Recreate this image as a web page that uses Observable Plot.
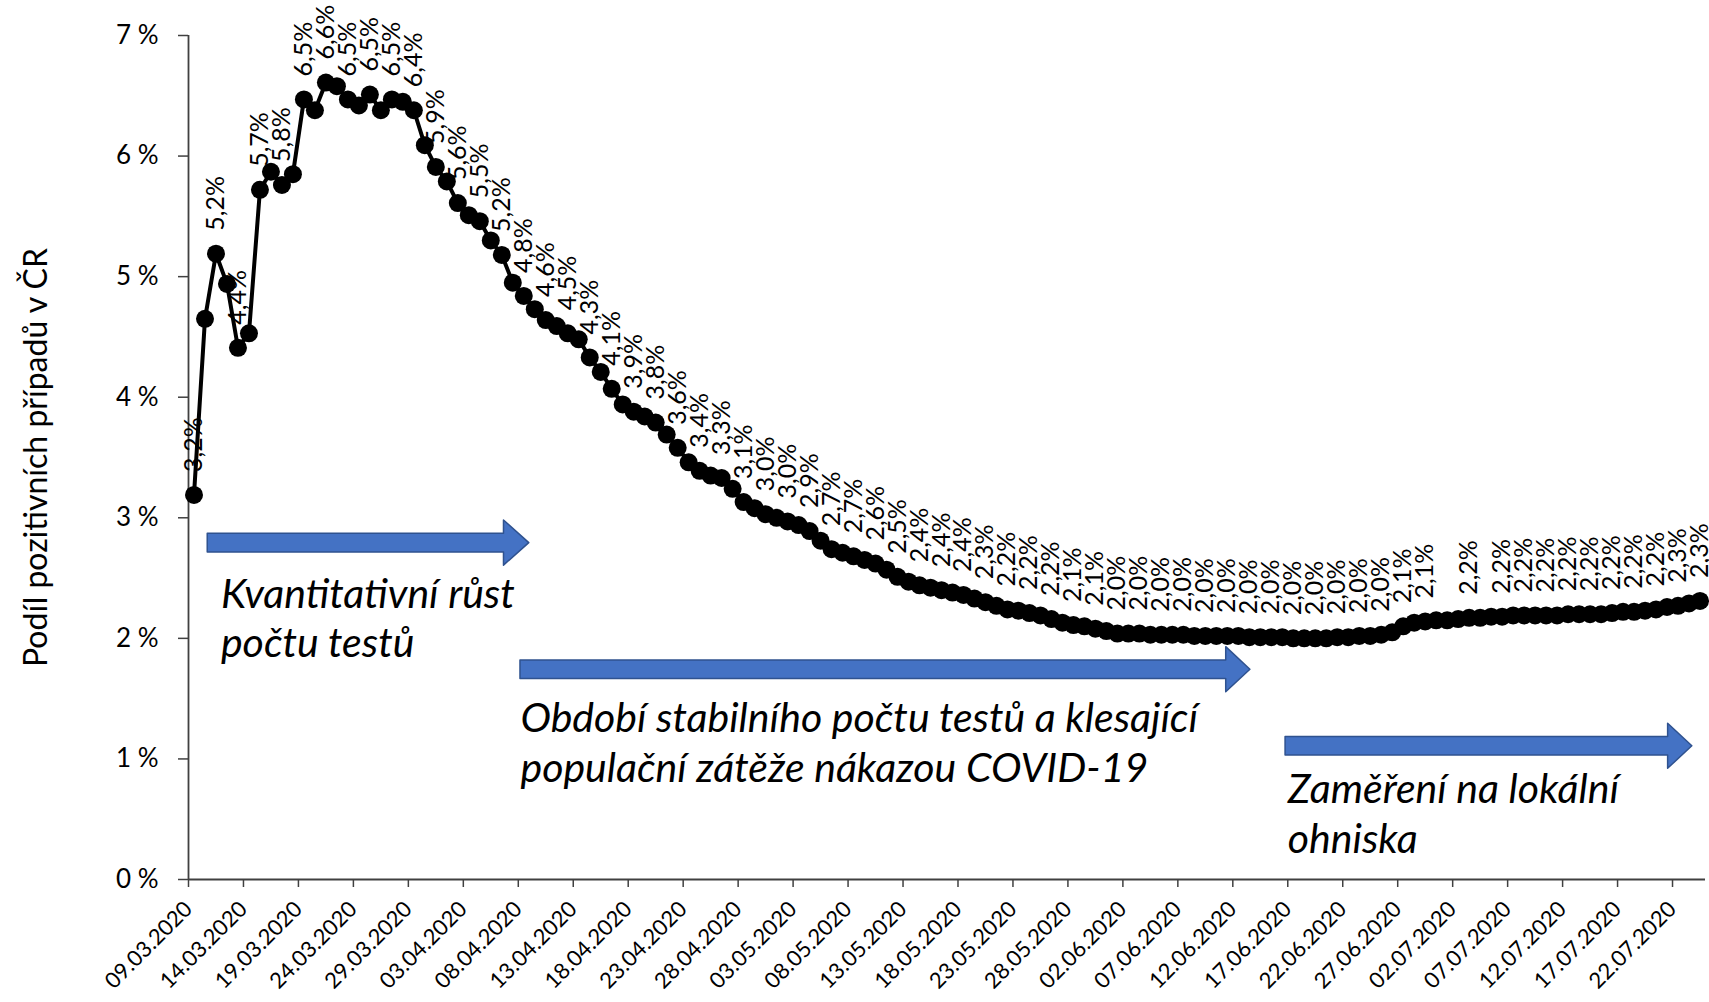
<!DOCTYPE html>
<html>
<head>
<meta charset="utf-8">
<script src="https://cdn.jsdelivr.net/npm/d3@7"></script>
<script src="https://cdn.jsdelivr.net/npm/@observablehq/plot@0.6"></script>
<style>
  html, body { margin: 0; padding: 0; background: #fff; overflow: hidden; }
  #chart { width: 1709px; height: 1002px; }
</style>
</head>
<body>
<div id="chart"></div>
<script>
// ---- data ----
const startDate = "2020-03-09";
const values = [
  3.19, 4.65, 5.19, 4.94, 4.41, 4.53, 5.72, 5.87, 5.76, 5.85,
  6.47, 6.38, 6.61, 6.58, 6.47, 6.42, 6.51, 6.38, 6.47, 6.45,
  6.38, 6.09, 5.91, 5.79, 5.61, 5.51, 5.46, 5.30, 5.18, 4.95,
  4.84, 4.73, 4.64, 4.59, 4.53, 4.48, 4.33, 4.21, 4.07, 3.94,
  3.88, 3.84, 3.79, 3.69, 3.58, 3.46, 3.39, 3.35, 3.33, 3.24,
  3.13, 3.08, 3.03, 3.00, 2.97, 2.94, 2.89, 2.81, 2.74, 2.71,
  2.68, 2.65, 2.62, 2.57, 2.51, 2.47, 2.44, 2.42, 2.40, 2.38,
  2.36, 2.33, 2.30, 2.27, 2.24, 2.23, 2.21, 2.19, 2.16, 2.13,
  2.11, 2.10, 2.08, 2.06, 2.04, 2.04, 2.04, 2.03, 2.03, 2.03,
  2.03, 2.02, 2.02, 2.02, 2.02, 2.02, 2.01, 2.01, 2.01, 2.01,
  2.00, 2.00, 2.00, 2.00, 2.01, 2.01, 2.02, 2.02, 2.03, 2.05,
  2.10, 2.13, 2.14, 2.15, 2.15, 2.16, 2.17, 2.17, 2.18, 2.18,
  2.19, 2.19, 2.19, 2.19, 2.19, 2.20, 2.20, 2.20, 2.20, 2.21,
  2.22, 2.22, 2.23, 2.24, 2.26, 2.27, 2.29, 2.31
];
// indices of points that carry a data label
const labelIndices = [
  0, 2, 4, 6, 8, 10, 12, 14, 16, 18, 20, 22, 24, 26, 28, 30, 32, 34, 36, 38,
  40, 42, 44, 46, 48, 50, 52, 54, 56, 58, 60, 62, 64, 66, 68, 70, 72, 74, 76, 78,
  80, 82, 84, 86, 88, 90, 92, 94, 96, 98, 100, 102, 104, 106, 108, 110, 112, 116,
  119, 121, 123, 125, 127, 129, 131, 133, 135, 137
];
const yTicks = [0, 1, 2, 3, 4, 5, 6, 7];
const xTickLabels = [
  "09.03.2020", "14.03.2020", "19.03.2020", "24.03.2020", "29.03.2020", "03.04.2020",
  "08.04.2020", "13.04.2020", "18.04.2020", "23.04.2020", "28.04.2020", "03.05.2020",
  "08.05.2020", "13.05.2020", "18.05.2020", "23.05.2020", "28.05.2020", "02.06.2020",
  "07.06.2020", "12.06.2020", "17.06.2020", "22.06.2020", "27.06.2020", "02.07.2020",
  "07.07.2020", "12.07.2020", "17.07.2020", "22.07.2020"
];
const yTitle = "Podíl pozitivních případů v ČR";

// annotation arrows (x in days from start, y in %)
const arrowStart = [1.75, 30.2, 99.8];
const arrowHead  = [28.7, 94.4, 134.6];
const arrowEnd   = [31.0, 96.6, 136.8];
const arrowY     = [2.79, 1.74, 1.105];
// annotation texts
const noteLines = [
  "Kvantitativní růst", "počtu testů",
  "Období stabilního počtu testů a klesající", "populační zátěže nákazou COVID-19",
  "Zaměření na lokální", "ohniska"
];
const noteX = [2.95, 2.95, 30.2, 30.2, 100.0, 100.0];
const noteY = [2.36, 1.955, 1.33, 0.92, 0.745, 0.33];

// ---- build ----
const DAY = 864e5;
const t0 = Date.parse(startDate + "T00:00:00Z");
const dayToDate = d => new Date(t0 + d * DAY);
const parseLabel = s => { const [dd, mm, yy] = s.split("."); return new Date(Date.UTC(+yy, +mm - 1, +dd)); };

const data = values.map((v, i) => ({ date: dayToDate(i + 0.5), value: v, i }));
const labelSet = new Set(labelIndices);
const labelData = data.filter(d => labelSet.has(d.i));
const fmt = v => v.toFixed(1).replace(".", ",") + "%";

const shaftHalf = 0.077, headHalf = 0.187;
const arrowPts = [];
arrowStart.forEach((x0, k) => {
  const c = arrowY[k];
  arrowPts.push({ id: k, x: dayToDate(x0), y1: c - shaftHalf, y2: c + shaftHalf });
  arrowPts.push({ id: k, x: dayToDate(arrowHead[k]), y1: c - shaftHalf, y2: c + shaftHalf });
  arrowPts.push({ id: k, x: dayToDate(arrowHead[k]), y1: c - headHalf, y2: c + headHalf });
  arrowPts.push({ id: k, x: dayToDate(arrowEnd[k]), y1: c, y2: c });
});
const notes = noteLines.map((t, k) => ({ text: t, x: dayToDate(noteX[k]), y: noteY[k] }));

const xDomain = [dayToDate(0), dayToDate(values.length)];
const xTicks = xTickLabels.map(parseLabel);
const tickFmt = d3.utcFormat("%d.%m.%Y");

const chart = Plot.plot({
  width: 1709,
  height: 1002,
  marginLeft: 188,
  marginRight: 4,
  marginTop: 35,
  marginBottom: 123,
  style: { fontFamily: "Lato, 'Noto Sans', sans-serif", background: "#fff", color: "#000" },
  x: { type: "utc", domain: xDomain },
  y: { domain: [0, 7] },
  marks: [
    Plot.axisY({ ticks: yTicks, tickFormat: d => `${d} %`, tickSize: 10, tickPadding: 20,
                 fontSize: 26, label: null, stroke: "#404040", strokeWidth: 1.5 }),
    Plot.axisX({ ticks: xTicks, tickFormat: tickFmt, tickSize: 8, tickPadding: 18,
                 tickRotate: -45, fontSize: 22, label: null, stroke: "#404040", strokeWidth: 1.5 }),
    Plot.ruleY([0], { stroke: "#404040", strokeWidth: 1.8 }),
    Plot.ruleX([xDomain[0]], { stroke: "#404040", strokeWidth: 1.8 }),
    Plot.text([yTitle], { frameAnchor: "left", textAnchor: "middle", rotate: -90, dx: -152,
                          fontSize: 32, fill: "#000" }),
    Plot.areaY(arrowPts, { x: "x", y1: "y1", y2: "y2", z: "id", curve: "linear",
                           fill: "#4472C4", stroke: "#2F528F", strokeWidth: 1.5 }),
    Plot.text(notes, { x: "x", y: "y", text: "text", textAnchor: "start", lineAnchor: "middle",
                       fontSize: 41, fontStyle: "italic", fill: "#000" }),
    Plot.line(data, { x: "date", y: "value", stroke: "#000", strokeWidth: 4 }),
    Plot.dot(data, { x: "date", y: "value", r: 9, fill: "#000", stroke: "none" }),
    Plot.text(labelData, { x: "date", y: "value", text: d => fmt(d.value), rotate: -90,
                           textAnchor: "start", lineAnchor: "middle", dy: -23,
                           fontSize: 25, fill: "#000" })
  ]
});
document.getElementById("chart").appendChild(chart);
</script>
</body>
</html>
